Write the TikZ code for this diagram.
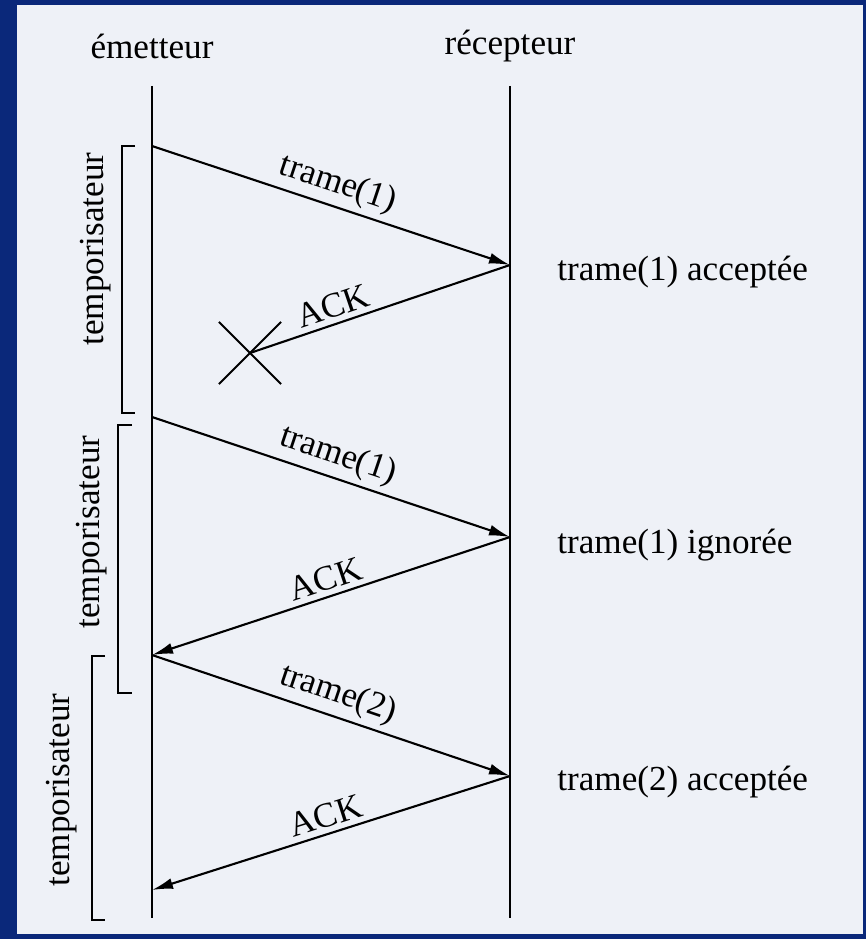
\documentclass[tikz,border=0pt]{standalone}
\usepackage{fontspec}
\setmainfont{Liberation Serif}
\usetikzlibrary{arrows.meta,shapes.misc}

\definecolor{slideblue}{RGB}{10,40,122}
\definecolor{paper}{RGB}{238,241,247}

\tikzstyle{actor}=[inner sep=0pt]
\tikzstyle{life}=[line width=1.2pt]
\tikzstyle{msg}=[line width=1.2pt, -{Latex[length=0.42cm,width=0.22cm]}]
\tikzstyle{lostmsg}=[line width=1.2pt]
\tikzstyle{msglabel}=[sloped, above, inner sep=3pt]
\tikzstyle{lost}=[cross out, draw, line width=1.2pt, minimum size=1.2cm, inner sep=0pt]
\tikzstyle{timer}=[line width=1.2pt]
\tikzstyle{timerlabel}=[rotate=90, inner sep=0pt]
\tikzstyle{status}=[anchor=west, inner sep=0pt]

\begin{document}
\begin{tikzpicture}[x=0.02cm, y=-0.02cm, font=\fontsize{20}{24}\selectfont]
    \fill[slideblue] (0,0) rectangle (866,939);
    \fill[paper] (17,5) rectangle (863,934);

    \node[actor] (em) at (152,46) {émetteur};
    \node[actor] (rec) at (510,46) {récepteur};

    \coordinate (em-top) at (152,86);
    \coordinate (em-bot) at (152,918);
    \coordinate (rec-top) at (510,86);
    \coordinate (rec-bot) at (510,918);
    \draw[life] (em-top) -- (em-bot);
    \draw[life] (rec-top) -- (rec-bot);

    % first try, ACK lost
    \coordinate (s1) at (152,146);
    \coordinate (r1) at (510,265);
    \node[lost] (x1) at (250,353) {};
    \draw[msg] (s1) -- node[msglabel] (m1) {trame(1)} (r1);
    \draw[lostmsg] (r1) -- node[msglabel, pos=0.66] (a1) {ACK} (x1.center);
    \node[status] (ok1) at (557,272) {trame(1) acceptée};

    \draw[timer] (135,146) -- (122,146) -- (122,413) -- (135,413);
    \node[timerlabel] (tm1) at (96,249) {temporisateur};

    % retransmission
    \coordinate (s2) at (152,417);
    \coordinate (r2) at (510,537);
    \coordinate (e2) at (152,655);
    \draw[msg] (s2) -- node[msglabel] (m2) {trame(1)} (r2);
    \draw[msg] (r2) -- node[msglabel] (a2) {ACK} (e2);
    \node[status] (dup) at (557,545) {trame(1) ignorée};

    \draw[timer] (132,425) -- (118,425) -- (118,693) -- (132,693);
    \node[timerlabel] (tm2) at (92,532) {temporisateur};

    % next frame
    \coordinate (s3) at (152,655);
    \coordinate (r3) at (510,776);
    \coordinate (e3) at (152,890);
    \draw[msg] (s3) -- node[msglabel] (m3) {trame(2)} (r3);
    \draw[msg] (r3) -- node[msglabel] (a3) {ACK} (e3);
    \node[status] (ok2) at (557,782) {trame(2) acceptée};

    \draw[timer] (105,656) -- (92,656) -- (92,920) -- (105,920);
    \node[timerlabel] (tm3) at (62,790) {temporisateur};
\end{tikzpicture}
\end{document}
